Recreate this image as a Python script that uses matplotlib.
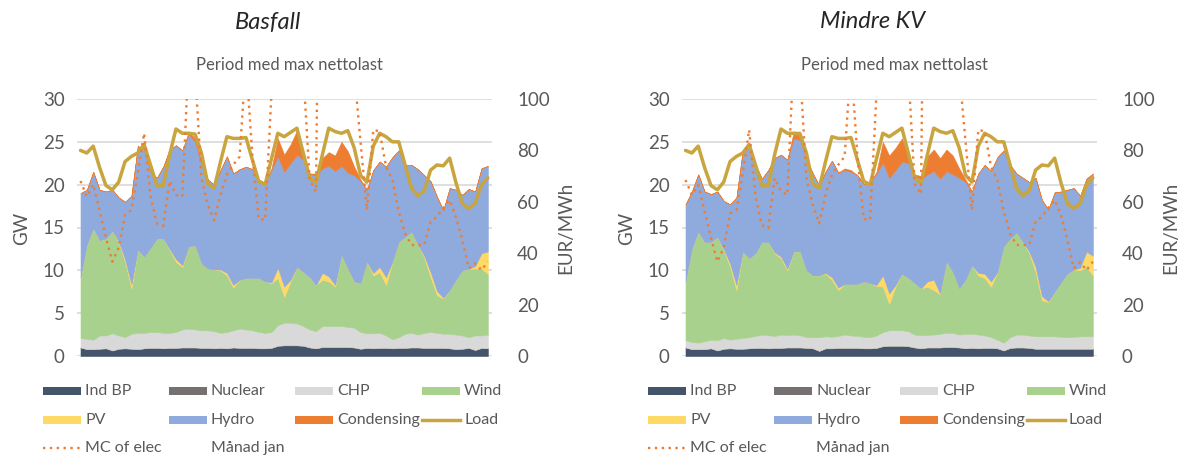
import numpy as np
import matplotlib
matplotlib.use("Agg")
import matplotlib.pyplot as plt
from matplotlib.patches import Rectangle
from matplotlib.lines import Line2D

plt.rcParams['font.family'] = ['Lato', 'DejaVu Sans']

# 3-hour time steps over the period with maximum net load
hours = np.arange(65)

# Hourly load (GW), same in both cases
load = [24.0, 23.7, 24.5, 22.0, 19.9, 19.4, 20.3, 22.7, 23.3, 23.7,
        24.7, 22.3, 19.9, 19.9, 23.5, 26.5, 26.0, 26.0, 25.9, 23.7,
        20.1, 19.6, 22.7, 25.6, 25.4, 25.4, 25.5, 22.9, 20.4, 20.0,
        23.0, 26.0, 25.6, 26.1, 26.6, 23.7, 20.8, 20.2, 23.5, 26.6,
        26.2, 26.0, 26.3, 24.3, 21.1, 20.3, 24.5, 26.0, 25.6, 25.0,
        25.0, 22.3, 19.6, 18.7, 19.3, 21.7, 22.3, 22.2, 23.1, 20.2,
        17.8, 17.2, 17.8, 20.0, 20.8]

# --- Basfall (GW, MC in EUR/MWh) ---
bas_ind_bp = [1.0, 0.8, 0.8, 0.85, 0.9, 0.65, 0.85, 0.9, 0.85, 0.8,
              0.9, 0.95, 0.95, 0.9, 0.95, 0.95, 1.0, 1.0, 1.0, 0.95,
              0.95, 0.9, 0.95, 0.9, 1.0, 0.95, 0.95, 0.95, 0.9, 0.9,
              0.95, 1.2, 1.25, 1.25, 1.25, 1.2, 1.0, 0.9, 1.05, 1.05,
              1.05, 1.05, 1.05, 1.0, 0.85, 0.95, 0.9, 0.95, 0.95, 0.9,
              0.95, 0.95, 1.0, 1.0, 0.95, 0.95, 0.95, 0.95, 0.9, 0.8,
              0.85, 0.95, 0.7, 0.95, 0.9]
bas_nuclear = [0.0] * 65
bas_chp = [1.1, 1.2, 1.1, 1.55, 1.5, 2.0, 1.55, 1.3, 1.75, 1.9,
           1.8, 1.85, 1.85, 1.8, 1.75, 1.85, 2.1, 2.2, 2.1, 2.05,
           2.05, 2.0, 1.75, 1.9, 2.0, 2.25, 2.15, 2.05, 1.9, 1.8,
           1.85, 2.4, 2.65, 2.65, 2.55, 2.3, 2.1, 2.0, 2.45, 2.45,
           2.45, 2.45, 2.35, 2.3, 1.95, 1.7, 1.75, 1.75, 1.45, 1.05,
           1.25, 1.65, 1.7, 1.5, 1.75, 1.85, 1.75, 1.65, 1.7, 1.7,
           1.55, 1.25, 1.7, 1.45, 1.6]
bas_wind = [7.1, 11.0, 13.0, 11.1, 11.3, 11.95, 10.9, 8.8, 5.3, 9.7,
            8.9, 9.8, 10.9, 11.0, 9.7, 8.2, 7.3, 9.6, 9.8, 7.8,
            7.2, 7.2, 7.3, 6.6, 5.0, 5.7, 6.0, 6.1, 6.3, 6.0,
            5.7, 5.5, 3.0, 4.8, 6.6, 6.3, 6.1, 5.4, 5.4, 5.2,
            4.6, 8.3, 6.8, 5.4, 5.7, 8.35, 6.75, 7.1, 5.9, 9.05,
            11.1, 11.3, 11.8, 10.5, 8.8, 6.4, 4.4, 4.1, 5.1, 6.4,
            7.6, 8.0, 7.8, 7.8, 7.1]
bas_pv = [0, 0, 0, 0, 0, 0, 0.1, 0.3, 0.5, 0,
          0, 0, 0, 0, 0.1, 0.3, 0.2, 0, 0, 0,
          0, 0, 0.1, 0.3, 0.3, 0, 0, 0, 0, 0,
          0.1, 1.2, 1.2, 0.2, 0, 0, 0, 0, 0.8, 0.6,
          0.2, 0, 0, 0, 0, 0, 0.3, 0.6, 0.9, 0,
          0, 0, 0, 0, 0.2, 0.6, 0.5, 0.1, 0, 0,
          0, 0, 0.3, 1.8, 2.6]
bas_hydro = [9.8, 6.4, 6.6, 5.9, 5.5, 4.8, 5.1, 6.7, 10.3, 12.1,
             12.6, 8.9, 7.1, 8.4, 11.6, 13.3, 13.4, 13.1, 12.1, 11.7,
             10.4, 9.9, 11.6, 13.6, 13.0, 12.9, 13.0, 12.7, 11.5, 11.5,
             13.1, 13.0, 13.4, 13.6, 13.1, 13.1, 12.1, 12.7, 12.2, 12.9,
             13.3, 10.4, 11.2, 12.4, 11.9, 8.4, 12.0, 12.3, 12.9, 12.2,
             10.7, 8.4, 7.8, 8.8, 9.4, 10.6, 11.0, 10.2, 11.9, 10.5,
             8.8, 9.3, 8.7, 9.9, 10.0]
bas_condensing = [0, 0, 0, 0, 0, 0, 0, 0, 0, 0,
                  0, 0, 0, 0, 0, 0, 0, 0.3, 0.4, 0,
                  0, 0, 0, 0, 0, 0, 0, 0, 0, 0,
                  0.2, 2.1, 2.0, 2.2, 2.8, 0.8, 0, 0.3, 1.2, 1.6,
                  1.8, 2.8, 2.5, 1.0, 0.2, 0, 0, 0, 0, 0,
                  0, 0, 0, 0, 0, 0, 0, 0, 0, 0,
                  0, 0, 0, 0, 0]
bas_mc = [68.1, 62.0, 66.8, 56.4, 46.0, 36.7, 42.1, 54.9, 56.8, 71.1,
          86.7, 62.0, 51.6, 50.6, 68.1, 62.7, 62.0, 117, 111, 69.2,
          58.8, 52.9, 62.7, 70.5, 74.4, 77.6, 115, 78, 53.3, 52.9,
          102, 150, 180, 160, 200, 111, 68.5, 64.0, 300, 250,
          220, 260, 230, 111, 83.2, 56.8, 88.0, 87.4, 73.7, 68.5,
          56.2, 47.7, 43.2, 43.2, 43.2, 52.3, 54.2, 57.7, 60.7, 54.0,
          45.0, 34.1, 36.0, 33.4, 36.7]

# --- Mindre KV (GW, MC in EUR/MWh) ---
mkv_ind_bp = [1.0, 0.8, 0.8, 0.8, 0.9, 0.65, 0.85, 0.9, 0.85, 0.85,
              0.9, 0.95, 0.95, 0.9, 0.95, 0.95, 1.0, 1.0, 1.0, 0.95,
              0.9, 0.6, 0.9, 0.9, 0.95, 0.95, 0.95, 0.95, 0.9, 0.9,
              0.95, 1.15, 1.2, 1.2, 1.2, 1.15, 1.0, 0.9, 1.0, 1.0,
              1.0, 1.05, 1.05, 1.0, 0.9, 0.95, 0.9, 0.95, 0.95, 0.9,
              0.65, 0.95, 1.0, 1.0, 0.95, 0.85, 0.85, 0.85, 0.85, 0.85,
              0.85, 0.85, 0.85, 0.85, 0.85]
mkv_nuclear = [0.0] * 65
mkv_chp = [0.83, 0.84, 0.76, 0.92, 1.01, 1.18, 1.25, 1.01, 1.18, 1.25,
           1.3, 1.39, 1.55, 1.52, 1.39, 1.55, 1.42, 1.5, 1.42, 1.25,
           1.3, 1.6, 1.4, 1.35, 1.39, 1.55, 1.45, 1.39, 1.35, 1.3,
           1.45, 1.65, 1.8, 1.8, 1.8, 1.75, 1.5, 1.52, 1.45, 1.5,
           1.6, 1.65, 1.65, 1.5, 1.7, 1.65, 1.6, 1.45, 1.25, 1.0,
           0.9, 1.25, 1.5, 1.5, 1.45, 1.45, 1.45, 1.45, 1.45, 1.4,
           1.35, 1.4, 1.45, 1.45, 1.45]
mkv_wind = [6.87, 10.86, 12.94, 11.58, 11.39, 12.07, 10.3, 8.49, 5.67, 10.1,
            9.2, 9.66, 10.8, 10.88, 9.66, 8.9, 7.58, 9.7, 9.78, 7.8,
            7.2, 7.2, 7.3, 6.65, 5.36, 5.9, 6.0, 6.06, 6.45, 6.3,
            5.8, 5.3, 3.1, 5.1, 6.6, 6.2, 6.0, 5.48, 5.65, 5.2,
            4.6, 8.3, 7.1, 5.4, 6.3, 8.0, 6.9, 6.7, 5.9, 7.9,
            11.25, 11.5, 11.9, 10.8, 9.6, 7.5, 4.2, 4.0, 5.2, 6.35,
            7.4, 7.85, 7.7, 8.1, 7.1]
mkv_pv = [0, 0, 0, 0, 0, 0, 0.1, 0.4, 0.6, 0,
          0, 0, 0, 0, 0.1, 0.2, 0.2, 0, 0, 0,
          0, 0, 0.1, 0.3, 0.3, 0, 0, 0, 0, 0,
          0.1, 1.3, 1.2, 0.2, 0, 0, 0, 0, 0.6, 1.2,
          0.1, 0, 0, 0, 0, 0, 0.3, 0.5, 0.6, 0,
          0, 0, 0, 0, 0.2, 0.6, 0.5, 0.1, 0, 0,
          0, 0, 0.3, 1.8, 2.3]
mkv_hydro = [9.0, 6.7, 6.7, 5.9, 5.6, 5.3, 5.6, 6.9, 10.2, 11.8,
             12.8, 10.3, 7.4, 8.4, 11.0, 11.9, 12.7, 13.2, 13.0, 13.0,
             11.9, 10.5, 11.8, 13.6, 13.4, 13.3, 13.1, 12.7, 11.4, 11.7,
             13.0, 13.2, 13.5, 13.4, 13.1, 13.4, 12.6, 12.7, 12.5, 12.7,
             13.4, 10.6, 11.4, 12.9, 11.4, 8.6, 11.6, 12.7, 12.9, 13.4,
             11.2, 8.6, 6.9, 7.5, 8.1, 10.4, 11.2, 10.7, 11.6, 10.6,
             9.8, 9.5, 8.4, 8.5, 9.6]
mkv_condensing = [0, 0, 0, 0, 0, 0, 0, 0, 0, 0,
                  0, 0, 0, 0, 0, 0, 0, 0.8, 1.0, 0,
                  0, 0, 0, 0, 0, 0.2, 0.2, 0, 0, 0,
                  0.2, 2.4, 2.6, 2.6, 2.7, 0.8, 0.1, 0.4, 2.1, 2.5,
                  2.4, 2.5, 2.2, 1.1, 0.3, 0, 0, 0, 0, 0,
                  0, 0, 0, 0, 0, 0, 0, 0, 0, 0,
                  0, 0, 0, 0, 0]
mkv_mc = [68.5, 62.7, 66.6, 56.4, 46.0, 36.7, 42.1, 55.5, 56.8, 71.1,
          88.0, 62.0, 51.0, 49.7, 69.2, 64.0, 62.7, 117, 111, 69.2,
          58.8, 51.6, 62.7, 70.5, 74.4, 77.6, 115, 78, 53.3, 52.9,
          102, 150, 180, 160, 200, 111, 67.0, 63.0, 300, 250,
          220, 260, 230, 111, 83.2, 56.8, 88.0, 87.4, 73.7, 68.5,
          56.2, 47.7, 43.2, 43.2, 43.2, 52.3, 54.2, 57.7, 60.7, 55.0,
          45.0, 34.1, 36.5, 33.4, 36.7]

series_names = ["Ind BP", "Nuclear", "CHP", "Wind", "PV", "Hydro", "Condensing"]
series_colors = ["#44546A", "#767171", "#D9D9D9", "#A9D18E", "#FFD966", "#8FAADC", "#ED7D31"]
load_color = "#C9A53F"
mc_color = "#ED7D31"
text_gray = "#595959"
grid_gray = "#D9D9D9"
mc_dots = (0, (1, 1.9))

W, H = 1178, 459
fig = plt.figure(figsize=(W / 100, H / 100), dpi=100)
fig.patch.set_facecolor("white")


def fx(px):
    return px / W


def fy(py):
    return 1 - py / H


def draw_panel(x_off, title, stack, mc):
    ax = fig.add_axes([fx(77 + x_off), fy(356), fx(415), 257 / H])
    polys = ax.stackplot(hours, *stack, colors=series_colors, linewidth=0.4)
    for p, c in zip(polys, series_colors):
        p.set_edgecolor(c)
    ax.plot(hours, load, color=load_color, lw=2.5, solid_capstyle="round",
            solid_joinstyle="round", zorder=5)
    ax.set_xlim(-0.55, 64.65)
    ax.set_ylim(0, 30)
    ax.set_yticks(range(0, 31, 5))
    ax.set_xticks([])
    ax.set_axisbelow(True)
    ax.grid(axis="y", color=grid_gray, lw=1.2)
    ax.tick_params(axis="y", length=0, pad=9, labelsize=13.5, labelcolor=text_gray)
    for s in ax.spines.values():
        s.set_visible(False)

    ax2 = ax.twinx()
    ax2.plot(hours, mc, color=mc_color, lw=1.7, linestyle=mc_dots,
             dash_capstyle="butt")
    ax2.set_ylim(0, 100)
    ax2.set_yticks(range(0, 101, 20))
    ax2.set_xlim(-0.55, 64.65)
    ax2.tick_params(axis="y", length=0, pad=18, labelsize=13.5, labelcolor=text_gray)
    for s in ax2.spines.values():
        s.set_visible(False)

    fig.text(fx(268 + x_off), fy(22), title, fontsize=17, style="italic",
             color="#262626", ha="center", va="center")
    fig.text(fx(289 + x_off), fy(65), "Period med max nettolast", fontsize=12,
             color=text_gray, ha="center", va="center")
    fig.text(fx(22 + x_off), fy(228), "GW", fontsize=13.5, color=text_gray,
             rotation=90, ha="center", va="center")
    fig.text(fx(566 + x_off), fy(228), "EUR/MWh", fontsize=13.5, color=text_gray,
             rotation=90, ha="center", va="center")

    # legend laid out in four evenly spaced columns
    col_x = [42.7, 168.5, 295.0, 421.5]
    row_y = [391, 420, 448]
    entries = [(n, "patch", c) for n, c in zip(series_names, series_colors)]
    entries += [("Load", "line", load_color), ("MC of elec", "dots", mc_color),
                ("Månad jan", "none", None)]
    for k, (name, kind, color) in enumerate(entries):
        r, c = divmod(k, 4)
        x0 = col_x[c] + x_off
        yc = row_y[r]
        if kind == "patch":
            fig.patches.append(Rectangle((fx(x0), fy(yc + 4)), fx(38), 8 / H,
                                         transform=fig.transFigure,
                                         facecolor=color, edgecolor="none"))
        elif kind == "line":
            fig.lines.append(Line2D([fx(x0), fx(x0 + 38)], [fy(yc), fy(yc)],
                                    transform=fig.transFigure, color=color, lw=2.5))
        elif kind == "dots":
            fig.lines.append(Line2D([fx(x0), fx(x0 + 38)], [fy(yc), fy(yc)],
                                    transform=fig.transFigure, color=color, lw=1.7,
                                    linestyle=mc_dots, dash_capstyle="butt"))
        fig.text(fx(x0 + 42.5), fy(yc), name, fontsize=11.5, color=text_gray,
                 ha="left", va="center")
    return ax


draw_panel(0, "Basfall",
           [bas_ind_bp, bas_nuclear, bas_chp, bas_wind, bas_pv, bas_hydro, bas_condensing],
           bas_mc)
draw_panel(605, "Mindre KV",
           [mkv_ind_bp, mkv_nuclear, mkv_chp, mkv_wind, mkv_pv, mkv_hydro, mkv_condensing],
           mkv_mc)

fig.savefig("out.png", dpi=100)
